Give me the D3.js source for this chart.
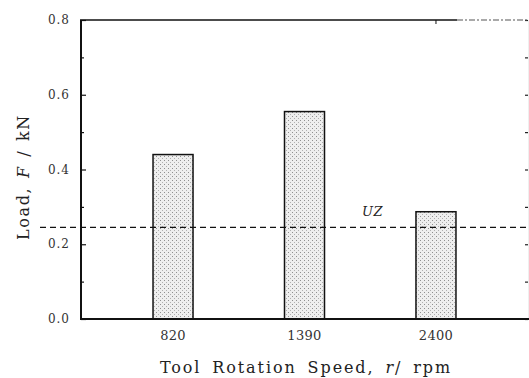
<!DOCTYPE html>
<html>
<head>
<meta charset="utf-8">
<script src="https://cdn.jsdelivr.net/npm/d3@7"></script>
<style>
  body { margin: 0; background: #fff; }
  svg text { font-family: "DejaVu Serif", "Liberation Serif", serif; }
</style>
</head>
<body>
<div id="chart"></div>
<script>
var speeds = ["820", "1390", "2400"];
var loads = [0.44, 0.555, 0.287];
var uzLoad = 0.245;
var majorTicks = [0.0, 0.2, 0.4, 0.6, 0.8];
var minorTicks = [0.1, 0.3, 0.5, 0.7];

function init() {
  var w = 529;
  var h = 378;
  var left = 81, right = 528, top = 20, bottom = 319;
  var barWidth = 40;

  var svg = d3.select("#chart")
    .append("svg")
    .attr("width", w)
    .attr("height", h);

  // stippled fill for the bars
  var pat = svg.append("defs").append("pattern")
    .attr("id", "stipple")
    .attr("width", 4)
    .attr("height", 4)
    .attr("patternUnits", "userSpaceOnUse");
  pat.append("rect").attr("width", 4).attr("height", 4).attr("fill", "#eeeeee");
  pat.append("rect").attr("x", 0).attr("y", 0).attr("width", 1).attr("height", 1).attr("fill", "#8f8f8f");
  pat.append("rect").attr("x", 2).attr("y", 2).attr("width", 1).attr("height", 1).attr("fill", "#b0b0b0");

  var xScale = d3.scalePoint()
    .domain(speeds)
    .range([left, right])
    .padding(0.7);

  var yScale = d3.scaleLinear()
    .domain([0, 0.8])
    .range([bottom, top]);

  // bars
  svg.selectAll("rect.bar")
    .data(loads)
    .enter()
    .append("rect")
    .attr("class", "bar")
    .attr("x", function (d, i) { return xScale(speeds[i]) - barWidth / 2; })
    .attr("y", function (d) { return yScale(d); })
    .attr("width", barWidth)
    .attr("height", function (d) { return yScale(0) - yScale(d); })
    .attr("fill", "url(#stipple)")
    .attr("stroke", "#111")
    .attr("stroke-width", 1.5);

  // UZ dashed line
  svg.append("line")
    .attr("x1", 40)
    .attr("x2", w)
    .attr("y1", yScale(uzLoad))
    .attr("y2", yScale(uzLoad))
    .attr("stroke", "#111")
    .attr("stroke-width", 1.3)
    .attr("stroke-dasharray", "6,4");

  svg.append("text")
    .attr("x", 362)
    .attr("y", yScale(uzLoad) - 11)
    .style("font-style", "italic")
    .style("font-size", "13px")
    .style("letter-spacing", "0.5px")
    .attr("fill", "#222")
    .text("UZ");

  // left axis, ticks inward
  var yAxis = d3.axisRight(yScale)
    .tickValues(majorTicks)
    .tickSize(5)
    .tickFormat("");
  var gy = svg.append("g")
    .attr("transform", "translate(" + left + ",0)")
    .call(yAxis);
  gy.select(".domain").remove();
  gy.selectAll("line").attr("stroke", "#111").attr("stroke-width", 1.2);

  var yMinor = d3.axisRight(yScale)
    .tickValues(minorTicks)
    .tickSize(3)
    .tickFormat("");
  var gym = svg.append("g")
    .attr("transform", "translate(" + left + ",0)")
    .call(yMinor);
  gym.select(".domain").remove();
  gym.selectAll("line").attr("stroke", "#111").attr("stroke-width", 1.2);

  svg.selectAll("text.tick-label")
    .data(majorTicks)
    .enter()
    .append("text")
    .attr("class", "tick-label")
    .attr("x", 70)
    .attr("y", function (d) { return yScale(d) + 4; })
    .attr("text-anchor", "end")
    .style("font-size", "12px")
    .style("letter-spacing", "1px")
    .attr("fill", "#333")
    .text(function (d) { return d.toFixed(1); });

  // right side ticks
  var yRight = d3.axisLeft(yScale)
    .tickValues(majorTicks.concat(minorTicks))
    .tickSize(3)
    .tickFormat("");
  var gr = svg.append("g")
    .attr("transform", "translate(" + right + ",0)")
    .call(yRight);
  gr.select(".domain").attr("stroke", "#e4e4e4").attr("stroke-width", 0.6);
  gr.selectAll("line").attr("stroke", "#222").attr("stroke-width", 1.2);

  // frame
  svg.append("line")
    .attr("x1", left).attr("x2", left)
    .attr("y1", top).attr("y2", bottom)
    .attr("stroke", "#111").attr("stroke-width", 2);

  svg.append("line")
    .attr("x1", left - 1).attr("x2", w)
    .attr("y1", bottom).attr("y2", bottom)
    .attr("stroke", "#111").attr("stroke-width", 2);

  svg.append("line")
    .attr("x1", left - 1).attr("x2", 457)
    .attr("y1", top).attr("y2", top)
    .attr("stroke", "#111").attr("stroke-width", 1.5);

  svg.append("line")
    .attr("x1", 457).attr("x2", w)
    .attr("y1", top).attr("y2", top)
    .attr("stroke", "#555").attr("stroke-width", 1.2)
    .attr("stroke-dasharray", "6,2,2,2");

  // top tick above the last category
  svg.append("line")
    .attr("x1", xScale("2400")).attr("x2", xScale("2400"))
    .attr("y1", top).attr("y2", top + 4)
    .attr("stroke", "#111").attr("stroke-width", 1);

  // x tick labels
  svg.selectAll("text.x-label")
    .data(speeds)
    .enter()
    .append("text")
    .attr("class", "x-label")
    .attr("x", function (d) { return xScale(d); })
    .attr("y", 340)
    .attr("text-anchor", "middle")
    .style("font-size", "13px")
    .style("letter-spacing", "0.3px")
    .attr("fill", "#333")
    .text(function (d) { return d; });

  // axis titles
  var xt = svg.append("text")
    .attr("x", 306)
    .attr("y", 373)
    .attr("text-anchor", "middle")
    .style("font-size", "16px")
    .style("letter-spacing", "1.9px")
    .style("word-spacing", "4px")
    .attr("fill", "#222");
  xt.append("tspan").text("Tool Rotation Speed, ");
  xt.append("tspan").style("font-style", "italic").text("r");
  xt.append("tspan").text("/ rpm");

  var yt = svg.append("text")
    .attr("transform", "translate(29,177) rotate(-90)")
    .attr("text-anchor", "middle")
    .style("font-size", "16px")
    .style("letter-spacing", "1.6px")
    .style("word-spacing", "2px")
    .attr("fill", "#222");
  yt.append("tspan").text("Load, ");
  yt.append("tspan").style("font-style", "italic").text("F");
  yt.append("tspan").text(" / kN");
}

window.onload = init;
</script>
</body>
</html>
